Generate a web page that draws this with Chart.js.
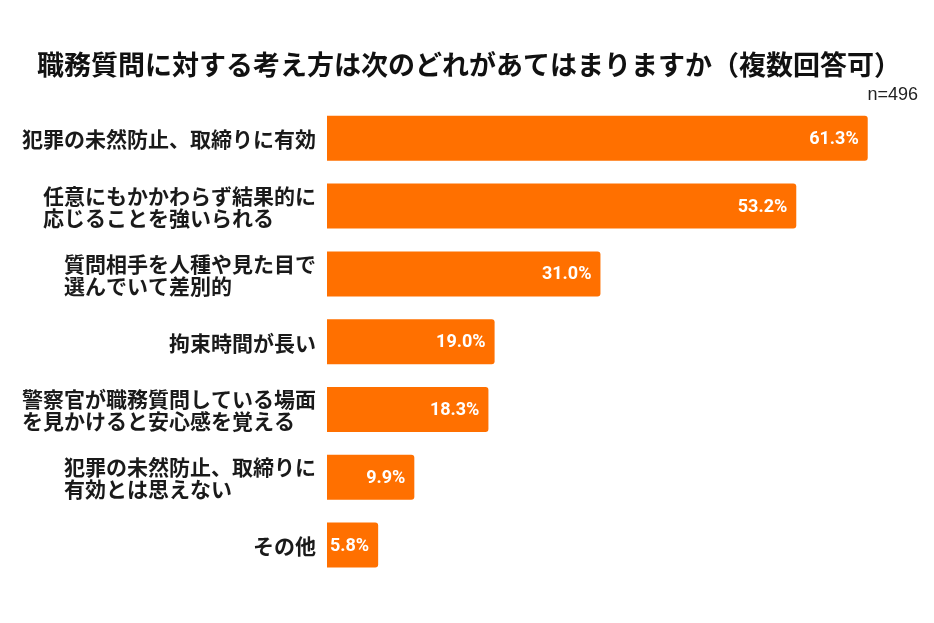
<!DOCTYPE html>
<html>
<head>
<meta charset="utf-8">
<script src="https://cdn.jsdelivr.net/npm/chart.js@4.4.1/dist/chart.umd.min.js"></script>
<style>
  html, body { margin: 0; padding: 0; background: #ffffff; }
  #wrap { width: 934px; height: 623px; }
</style>
</head>
<body>
<div id="wrap"><canvas id="c" width="934" height="623"></canvas></div>
<script>
const categories = [
  ["犯罪の未然防止、取締りに有効"],
  ["任意にもかかわらず結果的に", "応じることを強いられる"],
  ["質問相手を人種や見た目で", "選んでいて差別的"],
  ["拘束時間が長い"],
  ["警察官が職務質問している場面", "を見かけると安心感を覚える"],
  ["犯罪の未然防止、取締りに", "有効とは思えない"],
  ["その他"]
];
const values = [61.3, 53.2, 31.0, 19.0, 18.3, 9.9, 5.8];
const titleText = "職務質問に対する考え方は次のどれがあてはまりますか（複数回答可）";
const subtitleText = "n=496";

const LABEL_FONT = 'bold 21px "Noto Sans CJK JP", sans-serif';
const LINE_H = 22;

const categoryLabels = {
  id: 'categoryLabels',
  afterDraw(chart) {
    const ctx = chart.ctx;
    const yScale = chart.scales.y;
    const right = chart.chartArea.left - 11;
    ctx.save();
    ctx.font = LABEL_FONT;
    ctx.fillStyle = '#1a1a1a';
    ctx.textAlign = 'left';
    ctx.textBaseline = 'middle';
    chart.data.labels.forEach((lines, i) => {
      const cy = yScale.getPixelForValue(i) + 1;
      const maxW = Math.max(...lines.map(l => ctx.measureText(l).width));
      const x0 = right - maxW;
      const top = cy - (lines.length - 1) * LINE_H / 2;
      lines.forEach((l, k) => ctx.fillText(l, x0, top + k * LINE_H));
    });
    ctx.restore();
  }
};

const valueLabels = {
  id: 'valueLabels',
  afterDatasetsDraw(chart) {
    const ctx = chart.ctx;
    const meta = chart.getDatasetMeta(0);
    ctx.save();
    ctx.fillStyle = '#ffffff';
    ctx.font = 'bold 18px Roboto, "Noto Sans", sans-serif';
    ctx.textAlign = 'right';
    ctx.textBaseline = 'middle';
    meta.data.forEach((el, i) => {
      const v = chart.data.datasets[0].data[i];
      ctx.fillText(v.toFixed(1) + '%', el.x - 9, el.y + 1);
    });
    ctx.restore();
  }
};

new Chart(document.getElementById('c'), {
  type: 'bar',
  data: {
    labels: categories,
    datasets: [{
      data: values,
      backgroundColor: '#FF7000',
      borderRadius: 3,
      categoryPercentage: 0.664,
      barPercentage: 1.0
    }]
  },
  options: {
    indexAxis: 'y',
    responsive: false,
    animation: false,
    layout: { padding: { left: 20, right: 16, top: 0, bottom: 44 } },
    plugins: {
      legend: { display: false },
      tooltip: { enabled: false },
      title: {
        display: true,
        text: titleText,
        color: '#111111',
        font: { family: '"Noto Sans CJK JP", sans-serif', size: 27, weight: 'bold', lineHeight: 1.2 },
        padding: { top: 49, bottom: 5 }
      },
      subtitle: {
        display: true,
        text: subtitleText,
        align: 'end',
        color: '#222222',
        font: { family: '"Liberation Sans", Arial, sans-serif', size: 18, weight: 'normal', lineHeight: 1.0 },
        padding: { top: 0, bottom: 0 }
      }
    },
    scales: {
      x: {
        display: false,
        min: 0,
        max: 67
      },
      y: {
        grid: { display: false },
        border: { display: false },
        afterFit(scale) { scale.width = 307; },
        ticks: { display: false }
      }
    }
  },
  plugins: [valueLabels, categoryLabels]
});
</script>
</body>
</html>
